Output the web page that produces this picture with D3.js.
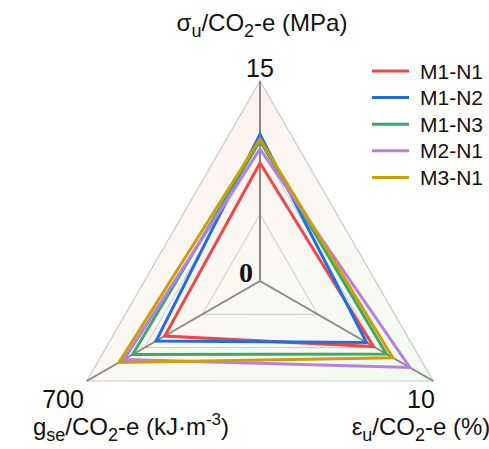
<!DOCTYPE html>
<html>
<head>
<meta charset="utf-8">
<script src="https://d3js.org/d3.v7.min.js"></script>
<style>
  body { margin: 0; background: #fff; }
  text { font-family: "Liberation Sans", Arial, sans-serif; fill: #111; }
</style>
</head>
<body>
<script>
const series = ["M1-N1", "M1-N2", "M1-N3", "M2-N1", "M3-N1"];
const colors = ["#f24646", "#1f6ee6", "#3aa96a", "#b77fe3", "#cf9e05"];
// axes: top, bottom-right, bottom-left
const axisMax = [15, 10, 700];
const strength = [8.85, 11.0, 10.5, 9.9, 10.65];   // sigma_u / CO2-e (MPa)
const strain = [6.55, 6.15, 7.3, 8.65, 7.67];      // eps_u / CO2-e (%)
const energy = [385, 420, 515, 550, 570];          // g_se / CO2-e (kJ m-3)

const width = 489, height = 449;
const cx = 260, cy = 281, R = 200;
const angles = [-90, 30, 150].map(a => a * Math.PI / 180);

const scales = axisMax.map(m => d3.scaleLinear().domain([0, m]).range([0, R]));

const svg = d3.select("body").append("svg")
    .attr("width", width)
    .attr("height", height);

const defs = svg.append("defs");
const grad = defs.append("linearGradient")
    .attr("id", "bg")
    .attr("x1", "20%").attr("y1", "10%")
    .attr("x2", "90%").attr("y2", "100%");
grad.append("stop").attr("offset", "0%").attr("stop-color", "#fdf1ef");
grad.append("stop").attr("offset", "55%").attr("stop-color", "#faf8f4");
grad.append("stop").attr("offset", "100%").attr("stop-color", "#f2faf0");

const g = svg.append("g").attr("transform", "translate(" + cx + "," + cy + ")");

function pt(i, r) {
    return [r * Math.cos(angles[i]), r * Math.sin(angles[i])];
}

const ring = d3.line().curve(d3.curveLinearClosed);

// background
g.append("path")
    .attr("d", ring([0, 1, 2].map(i => pt(i, R))))
    .style("fill", "url(#bg)")
    .style("stroke", "none");

// grid rings
[1 / 3, 2 / 3, 1].forEach(f => {
    g.append("path")
        .attr("d", ring([0, 1, 2].map(i => pt(i, R * f))))
        .style("fill", "none")
        .style("stroke", "#cacaca")
        .style("stroke-width", f === 1 ? 1.2 : 1);
});

// axis spokes
[0, 1, 2].forEach(i => {
    const p = pt(i, R);
    g.append("line")
        .attr("x1", 0).attr("y1", 0)
        .attr("x2", p[0]).attr("y2", p[1])
        .style("stroke", "#888")
        .style("stroke-width", 2);
});

// series polygons
series.forEach((s, k) => {
    const vals = [strength[k], strain[k], energy[k]];
    g.append("path")
        .attr("d", ring(vals.map((v, i) => pt(i, scales[i](v)))))
        .style("fill", "none")
        .style("stroke", colors[k])
        .style("stroke-width", 3)
        .style("stroke-linejoin", "miter");
});

// centre label
g.append("text")
    .attr("x", -7).attr("y", 1)
    .attr("text-anchor", "end")
    .style("font-family", "'Liberation Serif', 'Times New Roman', serif")
    .style("font-weight", "bold")
    .style("font-size", "28px")
    .text("0");

// max labels
svg.append("text").attr("x", 260).attr("y", 77).attr("text-anchor", "middle")
    .style("font-size", "25px").text(axisMax[0]);
svg.append("text").attr("x", 421).attr("y", 408).attr("text-anchor", "middle")
    .style("font-size", "25px").text(axisMax[1]);
svg.append("text").attr("x", 63).attr("y", 408).attr("text-anchor", "middle")
    .style("font-size", "25px").text(axisMax[2]);

// axis titles
function title(x, y, parts) {
    const t = svg.append("text").attr("x", x).attr("y", y)
        .attr("text-anchor", "middle").style("font-size", "24px");
    parts.forEach(p => {
        const ts = t.append("tspan").text(p.t);
        if (p.sub) ts.attr("dy", 6).style("font-size", "18px");
        else if (p.sup) ts.attr("dy", -10).style("font-size", "17px");
        if (p.back) ts.attr("dy", p.back);
    });
}

title(262, 31, [
    {t: "σ"}, {t: "u", sub: true}, {t: "/CO", back: -6}, {t: "2", sub: true}, {t: "-e (MPa)", back: -6}
]);
title(131, 435, [
    {t: "g"}, {t: "se", sub: true}, {t: "/CO", back: -6}, {t: "2", sub: true},
    {t: "-e (kJ·m", back: -6}, {t: "-3", sup: true}, {t: ")", back: 10}
]);
title(421, 435, [
    {t: "ε"}, {t: "u", sub: true}, {t: "/CO", back: -6}, {t: "2", sub: true}, {t: "-e (%)", back: -6}
]);

// legend
const legend = svg.append("g").attr("transform", "translate(372,71)");
series.forEach((s, k) => {
    const row = legend.append("g").attr("transform", "translate(0," + k * 26.6 + ")");
    row.append("line")
        .attr("x1", 0).attr("x2", 37)
        .attr("y1", 0).attr("y2", 0)
        .style("stroke", colors[k])
        .style("stroke-width", 3);
    row.append("text")
        .attr("x", 48).attr("y", 7.5)
        .style("font-size", "21px")
        .text(s);
});
</script>
</body>
</html>
